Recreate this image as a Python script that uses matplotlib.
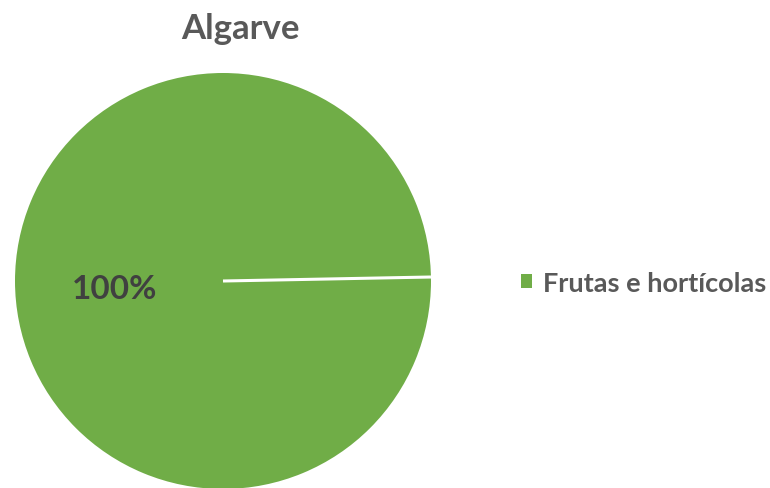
import numpy as np
import matplotlib
matplotlib.use("Agg")
import matplotlib.pyplot as plt

# Algarve - share by product group
categories = ["Frutas e hortícolas"]
shares = [100]
colors = ["#70AD47"]
title = "Algarve"

start_angle = 1.1

plt.rcParams["font.family"] = ["Lato", "DejaVu Sans"]

fig = plt.figure(figsize=(7.70, 4.89), dpi=100)
W, H = 770, 489
cx, cy, r = 223, 282, 208
ax = fig.add_axes([(cx - r) / W, (H - cy - r) / H, 2 * r / W, 2 * r / H])

wedges, texts, autotexts = ax.pie(
    shares, colors=colors, startangle=start_angle, counterclock=True,
    autopct="%1.0f%%", pctdistance=0.52, radius=1.0,
    wedgeprops=dict(linewidth=0),
    textprops=dict(color="#404040", fontsize=24, fontweight="bold"),
)
ax.set_xlim(-1, 1)
ax.set_ylim(-1, 1)
ax.set_aspect("auto")
for t in autotexts:
    x, y = t.get_position()
    t.set_position((x, y - 0.025))

# white wedge border from the centre to the rim
a = np.deg2rad(start_angle)
ax.plot([0, np.cos(a)], [0, np.sin(a)], color="white", lw=2.2, solid_capstyle="butt")

fig.text(240 / W, 1 - 29 / H, title, ha="center", va="center",
         fontsize=25, fontweight="bold", color="#595959")

leg = fig.legend(wedges, categories, loc="center left",
                 bbox_to_anchor=(521 / W, 1 - 284 / H), frameon=False,
                 borderpad=0, borderaxespad=0,
                 handlelength=0.42, handleheight=0.42, handletextpad=0.4,
                 prop=dict(size=19.5, weight="bold"))
for t in leg.get_texts():
    t.set_color("#595959")

fig.savefig("out.png", dpi=100)
